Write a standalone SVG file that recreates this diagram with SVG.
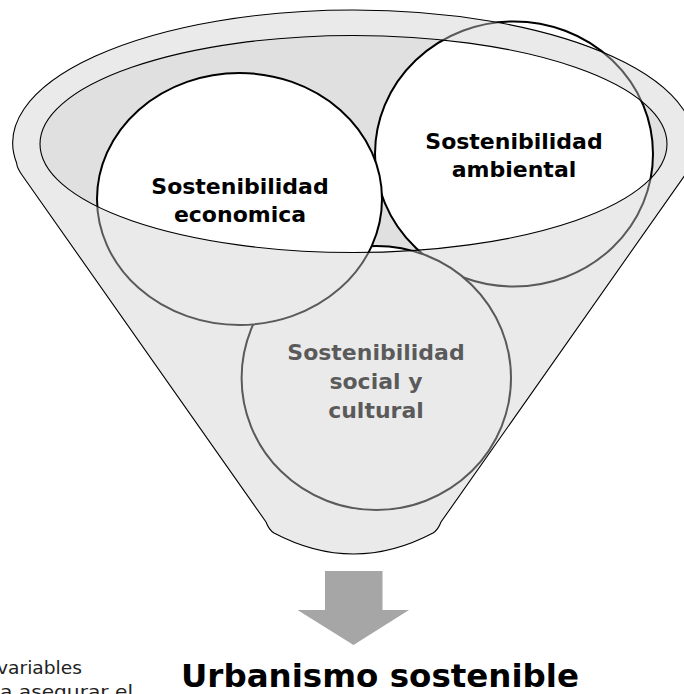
<svg xmlns="http://www.w3.org/2000/svg" width="684" height="694" viewBox="0 0 684 694">
  <style>
    .lbl { font-family: "DejaVu Sans", "Liberation Sans", sans-serif; font-weight: bold; font-size: 22px; fill: #000; text-anchor: middle; }
    .circ { fill: #ffffff; stroke: #000000; stroke-width: 2; }
    .body { fill: #cfcfcf; fill-opacity: 0.435; fill-rule: evenodd; stroke: #000000; stroke-width: 1.1; }
    .note { font-family: "DejaVu Sans", "Liberation Sans", sans-serif; font-size: 17px; fill: #222222; }
  </style>
  <rect width="684" height="694" fill="#ffffff"/>

  <g id="funnel-mouth">
    <ellipse cx="353.5" cy="144" rx="313.5" ry="108.5" fill="#e0e0e0"/>
  </g>

  <g id="node-ambiental">
    <ellipse class="circ" cx="514" cy="154" rx="139" ry="132.5"/>
    <text class="lbl" x="514" y="148.5">Sostenibilidad</text>
    <text class="lbl" x="514" y="177">ambiental</text>
  </g>

  <g id="node-social">
    <ellipse class="circ" cx="376.3" cy="378" rx="134.7" ry="132"/>
    <text class="lbl" x="376" y="360">Sostenibilidad</text>
    <text class="lbl" x="376" y="389">social y</text>
    <text class="lbl" x="376" y="418">cultural</text>
  </g>

  <g id="node-economica">
    <ellipse class="circ" cx="239.5" cy="199" rx="142.5" ry="126"/>
    <text class="lbl" x="240" y="193.5">Sostenibilidad</text>
    <text class="lbl" x="240" y="222">economica</text>
  </g>

  <g id="funnel">
    <path class="body" d="M 16.6 163 A 340.8 133 0 1 1 690.4 163 Q 690 168 685 175 L 441 522 Q 438 530 433 533 Q 353.5 575 274 533 Q 269 530 266 522 L 22 175 Q 17 168 16.6 163 Z M 40 144 A 313.5 108.5 0 1 0 667 144 A 313.5 108.5 0 1 0 40 144 Z"/>
  </g>

  <g id="connectors">
    <path d="M 325 571 H 382.5 V 610 H 409 L 353.5 645 L 297.5 610 H 325 Z" fill="#a6a6a6"/>
  </g>

  <g id="node-urbanismo">
    <text class="lbl" x="380" y="687" style="font-size:32.5px">Urbanismo sostenible</text>
  </g>

  <g id="side-note">
    <text class="note" x="-3" y="674" textLength="85" lengthAdjust="spacingAndGlyphs">variables</text>
    <text class="note" x="0" y="698" textLength="133" lengthAdjust="spacingAndGlyphs">a asegurar el</text>
  </g>
</svg>
